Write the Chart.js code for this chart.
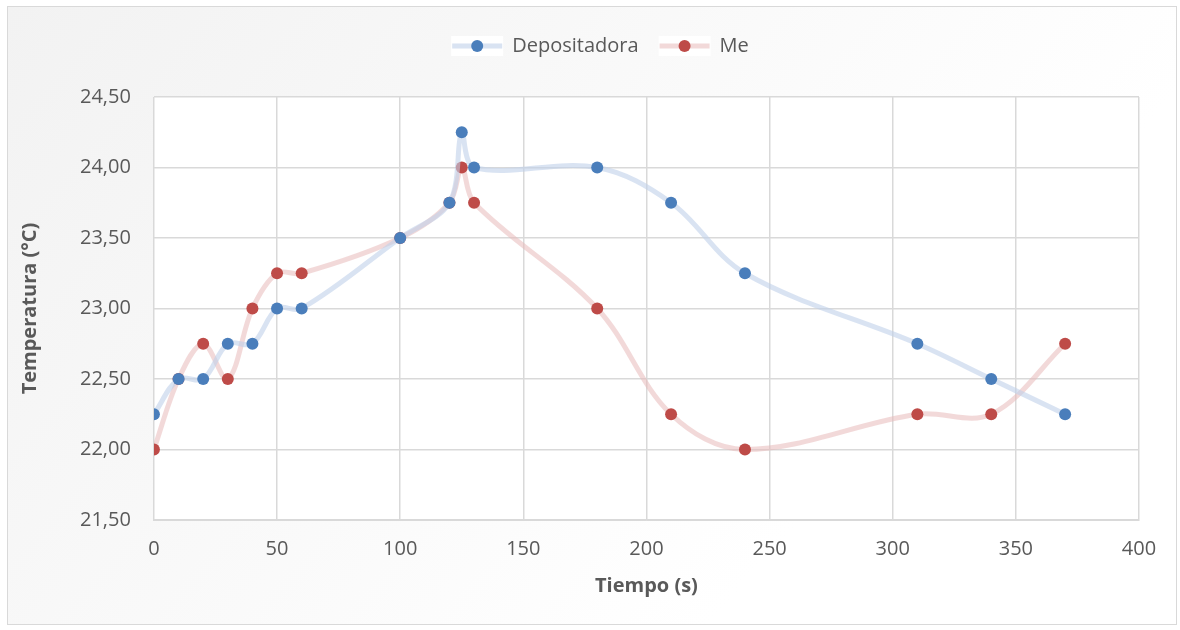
<!DOCTYPE html>
<html>
<head>
<meta charset="utf-8">
<script src="https://cdn.jsdelivr.net/npm/chart.js@4"></script>
<style>
  body { margin: 0; background: #fff; }
  #wrap { position: absolute; left: 7px; top: 6px; width: 1168px; height: 617px; border: 1px solid #d9d9d9; }
</style>
</head>
<body>
<div id="wrap"><canvas id="chart"></canvas></div>
<script>
// tiempo (s) y temperatura (°C)
const depoX = [0, 10, 20, 30, 40, 50, 60, 100, 120, 125, 130, 180, 210, 240, 310, 340, 370];
const depoY = [22.25, 22.5, 22.5, 22.75, 22.75, 23, 23, 23.5, 23.75, 24.25, 24, 24, 23.75, 23.25, 22.75, 22.5, 22.25];
const meX = [0, 10, 20, 30, 40, 50, 60, 100, 120, 125, 130, 180, 210, 240, 310, 340, 370];
const meY = [22, 22.5, 22.75, 22.5, 23, 23.25, 23.25, 23.5, 23.75, 24, 23.75, 23, 22.25, 22, 22.25, 22.25, 22.75];

const toPoints = (xs, ys) => xs.map((x, i) => ({ x: x, y: ys[i] }));
const FONT = 'Open Sans';
const GREY = '#595959';

const bgPlugin = {
    id: 'bg',
    beforeDraw(chart) {
        const c = chart.ctx;
        const g = c.createLinearGradient(0, 0, chart.width * 0.6, chart.height);
        g.addColorStop(0, '#f2f2f2');
        g.addColorStop(1, '#ffffff');
        c.save();
        c.fillStyle = g;
        c.fillRect(0, 0, chart.width, chart.height);
        const a = chart.chartArea;
        c.fillStyle = '#ffffff';
        c.fillRect(a.left, a.top, a.right - a.left, a.bottom - a.top);
        c.restore();
    }
};

// extra gap under the legend, and nudge it a bit right like the original
const legendSpace = {
    id: 'legendSpace',
    beforeInit(chart) {
        const fit = chart.legend.fit;
        chart.legend.fit = function () {
            fit.bind(chart.legend)();
            this.height += 31;
        };
    },
    afterLayout(chart) {
        chart.legend.left += 24;
        chart.legend.right += 24;
    }
};

const ctx = document.getElementById('chart').getContext('2d');
const chart = new Chart(ctx, {
    type: 'scatter',
    data: {
        datasets: [{
            label: 'Depositadora',
            data: toPoints(depoX, depoY),
            showLine: true,
            tension: 0.35,
            borderColor: 'rgba(191, 208, 234, 0.6)',
            borderWidth: 5,
            backgroundColor: '#4a7ebb',
            pointBackgroundColor: '#4a7ebb',
            pointBorderWidth: 0,
            pointRadius: 6,
            pointHoverRadius: 6
        }, {
            label: 'Me',
            data: toPoints(meX, meY),
            showLine: true,
            tension: 0.35,
            borderColor: 'rgba(232, 186, 186, 0.55)',
            borderWidth: 5,
            backgroundColor: '#be4b48',
            pointBackgroundColor: '#be4b48',
            pointBorderWidth: 0,
            pointRadius: 6,
            pointHoverRadius: 6
        }]
    },
    options: {
        responsive: true,
        maintainAspectRatio: false,
        animation: false,
        layout: { padding: { left: 6, right: 37, top: 8, bottom: 22 } },
        plugins: {
            legend: {
                position: 'top',
                labels: {
                    font: { family: FONT, size: 20 },
                    color: GREY,
                    padding: 21,
                    boxWidth: 50,
                    generateLabels(chart) {
                        return chart.data.datasets.map((ds, i) => ({
                            text: ds.label,
                            fillStyle: ds.pointBackgroundColor,
                            strokeStyle: ds.pointBackgroundColor,
                            lineWidth: 0,
                            datasetIndex: i,
                            fontColor: GREY
                        }));
                    }
                }
            },
            tooltip: { enabled: false }
        },
        scales: {
            x: {
                type: 'linear',
                min: 0,
                max: 400,
                ticks: { stepSize: 50, color: GREY, font: { family: FONT, size: 20 }, padding: 17 },
                grid: { color: '#d9d9d9', lineWidth: 1.5, drawTicks: false },
                border: { color: '#d9d9d9' },
                title: { display: true, text: 'Tiempo (s)', color: GREY, font: { family: FONT, size: 20, weight: 'bold' }, padding: { top: -4, bottom: 4 } }
            },
            y: {
                min: 21.5,
                max: 24.5,
                ticks: {
                    stepSize: 0.5,
                    color: GREY,
                    font: { family: FONT, size: 20 },
                    padding: 23,
                    callback: v => v.toFixed(2).replace('.', ',')
                },
                grid: { color: '#d9d9d9', lineWidth: 1.5, drawTicks: false },
                border: { color: '#d9d9d9' },
                title: { display: true, text: 'Temperatura (°C)', color: GREY, font: { family: FONT, size: 20, weight: 'bold' }, padding: { top: 4, bottom: 15 } }
            }
        }
    },
    plugins: [bgPlugin, legendSpace, {
        // legend marker: thick line with a dot in the middle, like the original
        id: 'legendMarkers',
        afterDraw(chart) {
            const lg = chart.legend;
            if (!lg || !lg.legendHitBoxes) return;
            const c = chart.ctx;
            lg.legendHitBoxes.forEach((box, i) => {
                const ds = chart.data.datasets[i];
                const cy = box.top + box.height / 2;
                c.save();
                c.fillStyle = '#ffffff';
                c.fillRect(box.left - 1, box.top, 52, box.height);
                c.strokeStyle = ds.borderColor;
                c.lineWidth = 5;
                c.beginPath();
                c.moveTo(box.left, cy);
                c.lineTo(box.left + 50, cy);
                c.stroke();
                c.fillStyle = ds.pointBackgroundColor;
                c.beginPath();
                c.arc(box.left + 25, cy, 6, 0, Math.PI * 2);
                c.fill();
                c.restore();
            });
        }
    }]
});
</script>
</body>
</html>
